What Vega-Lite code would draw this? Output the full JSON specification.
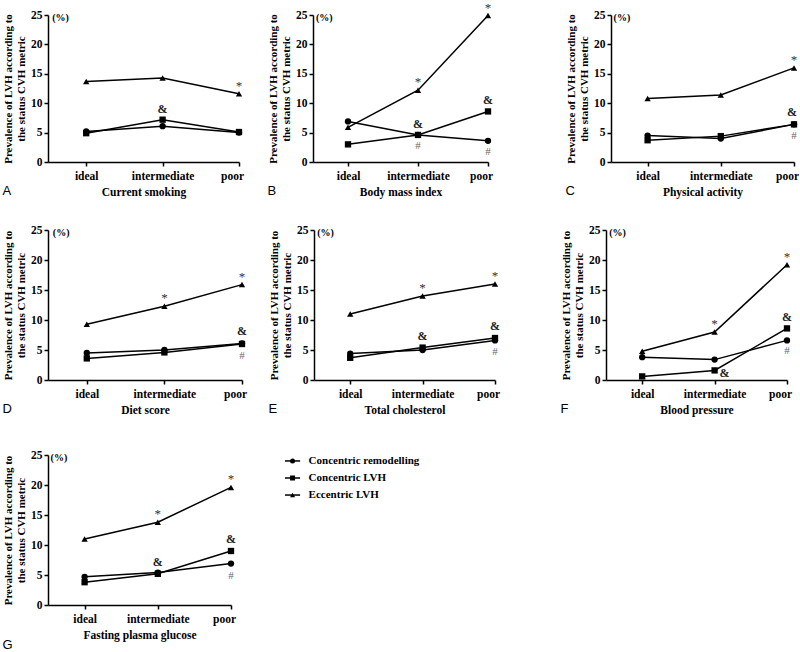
{
  "$schema": "https://vega.github.io/schema/vega-lite/v6.json",
  "padding": {"left": 2, "top": 1, "right": 0, "bottom": 0},
  "background": "white",
  "datasets": {
    "all": [
      {"panel":"A","level":"ideal","series":"Concentric remodelling","value":5.2},
      {"panel":"A","level":"intermediate","series":"Concentric remodelling","value":6.1},
      {"panel":"A","level":"poor","series":"Concentric remodelling","value":5.0},
      {"panel":"A","level":"ideal","series":"Concentric LVH","value":4.9},
      {"panel":"A","level":"intermediate","series":"Concentric LVH","value":7.2},
      {"panel":"A","level":"poor","series":"Concentric LVH","value":5.1},
      {"panel":"A","level":"ideal","series":"Eccentric LVH","value":13.7},
      {"panel":"A","level":"intermediate","series":"Eccentric LVH","value":14.3},
      {"panel":"A","level":"poor","series":"Eccentric LVH","value":11.6},
      {"panel":"B","level":"ideal","series":"Concentric remodelling","value":6.9},
      {"panel":"B","level":"intermediate","series":"Concentric remodelling","value":4.6},
      {"panel":"B","level":"poor","series":"Concentric remodelling","value":3.6},
      {"panel":"B","level":"ideal","series":"Concentric LVH","value":3.0},
      {"panel":"B","level":"intermediate","series":"Concentric LVH","value":4.6},
      {"panel":"B","level":"poor","series":"Concentric LVH","value":8.6},
      {"panel":"B","level":"ideal","series":"Eccentric LVH","value":5.9},
      {"panel":"B","level":"intermediate","series":"Eccentric LVH","value":12.2},
      {"panel":"B","level":"poor","series":"Eccentric LVH","value":24.9},
      {"panel":"C","level":"ideal","series":"Concentric remodelling","value":4.5},
      {"panel":"C","level":"intermediate","series":"Concentric remodelling","value":4.0},
      {"panel":"C","level":"poor","series":"Concentric remodelling","value":6.4},
      {"panel":"C","level":"ideal","series":"Concentric LVH","value":3.7},
      {"panel":"C","level":"intermediate","series":"Concentric LVH","value":4.4},
      {"panel":"C","level":"poor","series":"Concentric LVH","value":6.4},
      {"panel":"C","level":"ideal","series":"Eccentric LVH","value":10.8},
      {"panel":"C","level":"intermediate","series":"Eccentric LVH","value":11.4},
      {"panel":"C","level":"poor","series":"Eccentric LVH","value":16.0},
      {"panel":"D","level":"ideal","series":"Concentric remodelling","value":4.5},
      {"panel":"D","level":"intermediate","series":"Concentric remodelling","value":5.0},
      {"panel":"D","level":"poor","series":"Concentric remodelling","value":6.1},
      {"panel":"D","level":"ideal","series":"Concentric LVH","value":3.6},
      {"panel":"D","level":"intermediate","series":"Concentric LVH","value":4.6},
      {"panel":"D","level":"poor","series":"Concentric LVH","value":6.0},
      {"panel":"D","level":"ideal","series":"Eccentric LVH","value":9.3},
      {"panel":"D","level":"intermediate","series":"Eccentric LVH","value":12.3},
      {"panel":"D","level":"poor","series":"Eccentric LVH","value":15.9},
      {"panel":"E","level":"ideal","series":"Concentric remodelling","value":4.4},
      {"panel":"E","level":"intermediate","series":"Concentric remodelling","value":5.0},
      {"panel":"E","level":"poor","series":"Concentric remodelling","value":6.6},
      {"panel":"E","level":"ideal","series":"Concentric LVH","value":3.7},
      {"panel":"E","level":"intermediate","series":"Concentric LVH","value":5.4},
      {"panel":"E","level":"poor","series":"Concentric LVH","value":7.0},
      {"panel":"E","level":"ideal","series":"Eccentric LVH","value":11.0},
      {"panel":"E","level":"intermediate","series":"Eccentric LVH","value":14.0},
      {"panel":"E","level":"poor","series":"Eccentric LVH","value":16.0},
      {"panel":"F","level":"ideal","series":"Concentric remodelling","value":3.8},
      {"panel":"F","level":"intermediate","series":"Concentric remodelling","value":3.4},
      {"panel":"F","level":"poor","series":"Concentric remodelling","value":6.6},
      {"panel":"F","level":"ideal","series":"Concentric LVH","value":0.6},
      {"panel":"F","level":"intermediate","series":"Concentric LVH","value":1.6},
      {"panel":"F","level":"poor","series":"Concentric LVH","value":8.6},
      {"panel":"F","level":"ideal","series":"Eccentric LVH","value":4.8},
      {"panel":"F","level":"intermediate","series":"Eccentric LVH","value":8.0},
      {"panel":"F","level":"poor","series":"Eccentric LVH","value":19.2},
      {"panel":"G","level":"ideal","series":"Concentric remodelling","value":4.7},
      {"panel":"G","level":"intermediate","series":"Concentric remodelling","value":5.4},
      {"panel":"G","level":"poor","series":"Concentric remodelling","value":6.9},
      {"panel":"G","level":"ideal","series":"Concentric LVH","value":3.8},
      {"panel":"G","level":"intermediate","series":"Concentric LVH","value":5.2},
      {"panel":"G","level":"poor","series":"Concentric LVH","value":9.0},
      {"panel":"G","level":"ideal","series":"Eccentric LVH","value":11.0},
      {"panel":"G","level":"intermediate","series":"Eccentric LVH","value":13.8},
      {"panel":"G","level":"poor","series":"Eccentric LVH","value":19.6},

      {"panel":"A","level":"poor","series":"Eccentric LVH","value":11.6,"sym":"*"},
      {"panel":"A","level":"intermediate","series":"Concentric LVH","value":7.2,"sym":"&"},
      {"panel":"B","level":"intermediate","series":"Eccentric LVH","value":12.2,"sym":"*"},
      {"panel":"B","level":"poor","series":"Eccentric LVH","value":24.9,"sym":"*"},
      {"panel":"B","level":"intermediate","series":"Concentric LVH","value":4.6,"sym":"&"},
      {"panel":"B","level":"poor","series":"Concentric LVH","value":8.6,"sym":"&"},
      {"panel":"B","level":"intermediate","series":"Concentric remodelling","value":4.6,"sym":"#"},
      {"panel":"B","level":"poor","series":"Concentric remodelling","value":3.6,"sym":"#"},
      {"panel":"C","level":"poor","series":"Eccentric LVH","value":16.0,"sym":"*"},
      {"panel":"C","level":"poor","series":"Concentric LVH","value":6.4,"sym":"&"},
      {"panel":"C","level":"poor","series":"Concentric remodelling","value":6.4,"sym":"#"},
      {"panel":"D","level":"intermediate","series":"Eccentric LVH","value":12.3,"sym":"*"},
      {"panel":"D","level":"poor","series":"Eccentric LVH","value":15.9,"sym":"*"},
      {"panel":"D","level":"poor","series":"Concentric LVH","value":6.1,"sym":"&"},
      {"panel":"D","level":"poor","series":"Concentric remodelling","value":6.0,"sym":"#"},
      {"panel":"E","level":"intermediate","series":"Eccentric LVH","value":14.0,"sym":"*"},
      {"panel":"E","level":"poor","series":"Eccentric LVH","value":16.0,"sym":"*"},
      {"panel":"E","level":"intermediate","series":"Concentric LVH","value":5.4,"sym":"&"},
      {"panel":"E","level":"poor","series":"Concentric LVH","value":7.0,"sym":"&"},
      {"panel":"E","level":"poor","series":"Concentric remodelling","value":6.6,"sym":"#"},
      {"panel":"F","level":"intermediate","series":"Eccentric LVH","value":8.0,"sym":"*"},
      {"panel":"F","level":"poor","series":"Eccentric LVH","value":19.2,"sym":"*"},
      {"panel":"F","level":"poor","series":"Concentric LVH","value":8.6,"sym":"&"},
      {"panel":"F","level":"intermediate","series":"Concentric LVH","value":1.6,"sym":"&","pos":"right"},
      {"panel":"F","level":"poor","series":"Concentric remodelling","value":6.6,"sym":"#"},
      {"panel":"G","level":"intermediate","series":"Eccentric LVH","value":13.8,"sym":"*"},
      {"panel":"G","level":"poor","series":"Eccentric LVH","value":19.6,"sym":"*"},
      {"panel":"G","level":"intermediate","series":"Concentric LVH","value":5.2,"sym":"&"},
      {"panel":"G","level":"poor","series":"Concentric LVH","value":9.0,"sym":"&"},
      {"panel":"G","level":"poor","series":"Concentric remodelling","value":6.9,"sym":"#"},

      {"panel":"A","level":"ideal","sym":"(%)"},
      {"panel":"B","level":"ideal","sym":"(%)"},
      {"panel":"C","level":"ideal","sym":"(%)"},
      {"panel":"D","level":"ideal","sym":"(%)"},
      {"panel":"E","level":"ideal","sym":"(%)"},
      {"panel":"F","level":"ideal","sym":"(%)"},
      {"panel":"G","level":"ideal","sym":"(%)"}
    ]
  },
  "vconcat": [
    {
      "vconcat": [
        {
          "hconcat": [
            {
              "hconcat": [
                {
                  "width": 191, "height": 147,
                  "data": {"name": "all"},
                  "transform": [{"filter": "datum.panel == 'A'"}],
                  "title": {"text": "A"},
                  "resolve": {"scale": {"x": "independent", "y": "independent"}, "axis": {"x": "independent", "y": "independent"}},
                  "layer": [
                    {
                      "encoding": {
                        "x": {"field": "level", "type": "nominal", "scale": {"type": "point", "domain": ["ideal","intermediate","poor"], "padding": 0.25, "align": 1}, "axis": {"labelAngle": 0, "labelOffset": {"condition": {"test": "datum.value == 'poor'", "value": -7}, "value": 0}}, "title": "Current smoking"},
                        "y": {"field": "value", "type": "quantitative", "scale": {"domain": [0, 25]}, "axis": {"values": [0,5,10,15,20,25]}, "title": ["Prevalence of LVH according to", "the status CVH metric"]}
                      },
                      "layer": [
                        {"transform": [{"filter": "!isValid(datum.sym)"}], "mark": {"type": "line", "color": "black", "strokeWidth": 1.5}, "encoding": {"detail": {"field": "series"}}},
                        {"transform": [{"filter": "!isValid(datum.sym)"}], "mark": {"type": "point", "filled": true, "color": "black", "opacity": 1, "size": 40}, "encoding": {"shape": {"field": "series", "type": "nominal", "scale": {"domain": ["Concentric remodelling","Concentric LVH","Eccentric LVH"], "range": ["circle","square","triangle-up"]}, "legend": null}}},
                        {"transform": [{"filter": "datum.sym == '*'"}], "mark": {"type": "text", "dy": -8, "fontSize": 13, "color": "#333"}, "encoding": {"text": {"field": "sym"}}},
                        {"transform": [{"filter": "datum.sym == '&' && datum.pos != 'right'"}], "mark": {"type": "text", "dy": -11, "fontSize": 12, "fontWeight": "bold", "color": "#222"}, "encoding": {"text": {"field": "sym"}}},
                        {"transform": [{"filter": "datum.sym == '#'"}], "mark": {"type": "text", "dy": 11, "fontSize": 11, "color": "#666"}, "encoding": {"text": {"field": "sym"}}}
                      ]
                    },
                    {"transform": [{"filter": "datum.sym == '(%)'"}], "mark": {"type": "text", "align": "left", "dx": -34, "dy": 3, "fontSize": 10, "fontWeight": "bold", "color": "black"}, "encoding": {"x": {"field": "level", "type": "nominal", "scale": {"type": "point", "domain": ["ideal","intermediate","poor"], "padding": 0.25, "align": 1}, "axis": null}, "y": {"datum": 25, "type": "quantitative", "scale": {"domain": [0, 25]}, "axis": null}, "text": {"field": "sym"}}}
                  ]
                },
                {
                  "width": 175, "height": 147,
                  "data": {"name": "all"},
                  "transform": [{"filter": "datum.panel == 'B'"}],
                  "title": {"text": "B"},
                  "resolve": {"scale": {"x": "independent", "y": "independent"}, "axis": {"x": "independent", "y": "independent"}},
                  "layer": [
                    {
                      "encoding": {
                        "x": {"field": "level", "type": "nominal", "scale": {"type": "point", "domain": ["ideal","intermediate","poor"], "padding": 0.25, "align": 1}, "axis": {"labelAngle": 0, "labelOffset": {"condition": {"test": "datum.value == 'poor'", "value": -7}, "value": 0}}, "title": "Body mass index"},
                        "y": {"field": "value", "type": "quantitative", "scale": {"domain": [0, 25]}, "axis": {"values": [0,5,10,15,20,25]}, "title": ["Prevalence of LVH according to", "the status CVH metric"]}
                      },
                      "layer": [
                        {"transform": [{"filter": "!isValid(datum.sym)"}], "mark": {"type": "line", "color": "black", "strokeWidth": 1.5}, "encoding": {"detail": {"field": "series"}}},
                        {"transform": [{"filter": "!isValid(datum.sym)"}], "mark": {"type": "point", "filled": true, "color": "black", "opacity": 1, "size": 40}, "encoding": {"shape": {"field": "series", "type": "nominal", "scale": {"domain": ["Concentric remodelling","Concentric LVH","Eccentric LVH"], "range": ["circle","square","triangle-up"]}, "legend": null}}},
                        {"transform": [{"filter": "datum.sym == '*'"}], "mark": {"type": "text", "dy": -8, "fontSize": 13, "color": "#333"}, "encoding": {"text": {"field": "sym"}}},
                        {"transform": [{"filter": "datum.sym == '&' && datum.pos != 'right'"}], "mark": {"type": "text", "dy": -11, "fontSize": 12, "fontWeight": "bold", "color": "#222"}, "encoding": {"text": {"field": "sym"}}},
                        {"transform": [{"filter": "datum.sym == '#'"}], "mark": {"type": "text", "dy": 11, "fontSize": 11, "color": "#666"}, "encoding": {"text": {"field": "sym"}}}
                      ]
                    },
                    {"transform": [{"filter": "datum.sym == '(%)'"}], "mark": {"type": "text", "align": "left", "dx": -32, "dy": 3, "fontSize": 10, "fontWeight": "bold", "color": "black"}, "encoding": {"x": {"field": "level", "type": "nominal", "scale": {"type": "point", "domain": ["ideal","intermediate","poor"], "padding": 0.25, "align": 1}, "axis": null}, "y": {"datum": 25, "type": "quantitative", "scale": {"domain": [0, 25]}, "axis": null}, "text": {"field": "sym"}}}
                  ]
                }
              ],
              "spacing": 23
            },
            {
              "width": 183, "height": 147,
              "data": {"name": "all"},
              "transform": [{"filter": "datum.panel == 'C'"}],
              "title": {"text": "C"},
              "resolve": {"scale": {"x": "independent", "y": "independent"}, "axis": {"x": "independent", "y": "independent"}},
              "layer": [
                {
                  "encoding": {
                    "x": {"field": "level", "type": "nominal", "scale": {"type": "point", "domain": ["ideal","intermediate","poor"], "padding": 0.25, "align": 1}, "axis": {"labelAngle": 0, "labelOffset": {"condition": {"test": "datum.value == 'poor'", "value": -7}, "value": 0}}, "title": "Physical activity"},
                    "y": {"field": "value", "type": "quantitative", "scale": {"domain": [0, 25]}, "axis": {"values": [0,5,10,15,20,25]}, "title": ["Prevalence of LVH according to", "the status CVH metric"]}
                  },
                  "layer": [
                    {"transform": [{"filter": "!isValid(datum.sym)"}], "mark": {"type": "line", "color": "black", "strokeWidth": 1.5}, "encoding": {"detail": {"field": "series"}}},
                    {"transform": [{"filter": "!isValid(datum.sym)"}], "mark": {"type": "point", "filled": true, "color": "black", "opacity": 1, "size": 40}, "encoding": {"shape": {"field": "series", "type": "nominal", "scale": {"domain": ["Concentric remodelling","Concentric LVH","Eccentric LVH"], "range": ["circle","square","triangle-up"]}, "legend": null}}},
                    {"transform": [{"filter": "datum.sym == '*'"}], "mark": {"type": "text", "dy": -8, "fontSize": 13, "color": "#333"}, "encoding": {"text": {"field": "sym"}}},
                    {"transform": [{"filter": "datum.sym == '&' && datum.pos != 'right'"}], "mark": {"type": "text", "dy": -12, "dx": -2, "fontSize": 12, "fontWeight": "bold", "color": "#222"}, "encoding": {"text": {"field": "sym"}}},
                    {"transform": [{"filter": "datum.sym == '#'"}], "mark": {"type": "text", "dy": 12, "fontSize": 11, "color": "#666"}, "encoding": {"text": {"field": "sym"}}}
                  ]
                },
                {"transform": [{"filter": "datum.sym == '(%)'"}], "mark": {"type": "text", "align": "left", "dx": -34, "dy": 3, "fontSize": 10, "fontWeight": "bold", "color": "black"}, "encoding": {"x": {"field": "level", "type": "nominal", "scale": {"type": "point", "domain": ["ideal","intermediate","poor"], "padding": 0.25, "align": 1}, "axis": null}, "y": {"datum": 25, "type": "quantitative", "scale": {"domain": [0, 25]}, "axis": null}, "text": {"field": "sym"}}}
              ]
            }
          ],
          "spacing": 72
        },
        {
          "hconcat": [
            {
              "hconcat": [
                {
                  "width": 194, "height": 150,
                  "data": {"name": "all"},
                  "transform": [{"filter": "datum.panel == 'D'"}],
                  "title": {"text": "D"},
                  "resolve": {"scale": {"x": "independent", "y": "independent"}, "axis": {"x": "independent", "y": "independent"}},
                  "layer": [
                    {
                      "encoding": {
                        "x": {"field": "level", "type": "nominal", "scale": {"type": "point", "domain": ["ideal","intermediate","poor"], "padding": 0.25, "align": 1}, "axis": {"labelAngle": 0, "labelOffset": {"condition": {"test": "datum.value == 'poor'", "value": -7}, "value": 0}}, "title": "Diet score"},
                        "y": {"field": "value", "type": "quantitative", "scale": {"domain": [0, 25]}, "axis": {"values": [0,5,10,15,20,25]}, "title": ["Prevalence of LVH according to", "the status CVH metric"]}
                      },
                      "layer": [
                        {"transform": [{"filter": "!isValid(datum.sym)"}], "mark": {"type": "line", "color": "black", "strokeWidth": 1.5}, "encoding": {"detail": {"field": "series"}}},
                        {"transform": [{"filter": "!isValid(datum.sym)"}], "mark": {"type": "point", "filled": true, "color": "black", "opacity": 1, "size": 40}, "encoding": {"shape": {"field": "series", "type": "nominal", "scale": {"domain": ["Concentric remodelling","Concentric LVH","Eccentric LVH"], "range": ["circle","square","triangle-up"]}, "legend": null}}},
                        {"transform": [{"filter": "datum.sym == '*'"}], "mark": {"type": "text", "dy": -8, "fontSize": 13, "color": "#333"}, "encoding": {"text": {"field": "sym"}}},
                        {"transform": [{"filter": "datum.sym == '&' && datum.pos != 'right'"}], "mark": {"type": "text", "dy": -12, "fontSize": 12, "fontWeight": "bold", "color": "#222"}, "encoding": {"text": {"field": "sym"}}},
                        {"transform": [{"filter": "datum.sym == '#'"}], "mark": {"type": "text", "dy": 12, "fontSize": 11, "color": "#666"}, "encoding": {"text": {"field": "sym"}}}
                      ]
                    },
                    {"transform": [{"filter": "datum.sym == '(%)'"}], "mark": {"type": "text", "align": "left", "dx": -34, "dy": 3, "fontSize": 10, "fontWeight": "bold", "color": "black"}, "encoding": {"x": {"field": "level", "type": "nominal", "scale": {"type": "point", "domain": ["ideal","intermediate","poor"], "padding": 0.25, "align": 1}, "axis": null}, "y": {"datum": 25, "type": "quantitative", "scale": {"domain": [0, 25]}, "axis": null}, "text": {"field": "sym"}}}
                  ]
                },
                {
                  "width": 181, "height": 150,
                  "data": {"name": "all"},
                  "transform": [{"filter": "datum.panel == 'E'"}],
                  "title": {"text": "E"},
                  "resolve": {"scale": {"x": "independent", "y": "independent"}, "axis": {"x": "independent", "y": "independent"}},
                  "layer": [
                    {
                      "encoding": {
                        "x": {"field": "level", "type": "nominal", "scale": {"type": "point", "domain": ["ideal","intermediate","poor"], "padding": 0.25, "align": 1}, "axis": {"labelAngle": 0, "labelOffset": {"condition": {"test": "datum.value == 'poor'", "value": -7}, "value": 0}}, "title": "Total cholesterol"},
                        "y": {"field": "value", "type": "quantitative", "scale": {"domain": [0, 25]}, "axis": {"values": [0,5,10,15,20,25]}, "title": ["Prevalence of LVH according to", "the status CVH metric"]}
                      },
                      "layer": [
                        {"transform": [{"filter": "!isValid(datum.sym)"}], "mark": {"type": "line", "color": "black", "strokeWidth": 1.5}, "encoding": {"detail": {"field": "series"}}},
                        {"transform": [{"filter": "!isValid(datum.sym)"}], "mark": {"type": "point", "filled": true, "color": "black", "opacity": 1, "size": 40}, "encoding": {"shape": {"field": "series", "type": "nominal", "scale": {"domain": ["Concentric remodelling","Concentric LVH","Eccentric LVH"], "range": ["circle","square","triangle-up"]}, "legend": null}}},
                        {"transform": [{"filter": "datum.sym == '*'"}], "mark": {"type": "text", "dy": -8, "fontSize": 13, "color": "#333"}, "encoding": {"text": {"field": "sym"}}},
                        {"transform": [{"filter": "datum.sym == '&' && datum.pos != 'right'"}], "mark": {"type": "text", "dy": -12, "fontSize": 12, "fontWeight": "bold", "color": "#222"}, "encoding": {"text": {"field": "sym"}}},
                        {"transform": [{"filter": "datum.sym == '#'"}], "mark": {"type": "text", "dy": 12, "fontSize": 11, "color": "#666"}, "encoding": {"text": {"field": "sym"}}}
                      ]
                    },
                    {"transform": [{"filter": "datum.sym == '(%)'"}], "mark": {"type": "text", "align": "left", "dx": -33, "dy": 3, "fontSize": 10, "fontWeight": "bold", "color": "black"}, "encoding": {"x": {"field": "level", "type": "nominal", "scale": {"type": "point", "domain": ["ideal","intermediate","poor"], "padding": 0.25, "align": 1}, "axis": null}, "y": {"datum": 25, "type": "quantitative", "scale": {"domain": [0, 25]}, "axis": null}, "text": {"field": "sym"}}}
                  ]
                }
              ],
              "spacing": 21
            },
            {
              "width": 181, "height": 150,
              "data": {"name": "all"},
              "transform": [{"filter": "datum.panel == 'F'"}],
              "title": {"text": "F"},
              "resolve": {"scale": {"x": "independent", "y": "independent"}, "axis": {"x": "independent", "y": "independent"}},
              "layer": [
                {
                  "encoding": {
                    "x": {"field": "level", "type": "nominal", "scale": {"type": "point", "domain": ["ideal","intermediate","poor"], "padding": 0.25, "align": 1}, "axis": {"labelAngle": 0, "labelOffset": {"condition": {"test": "datum.value == 'poor'", "value": -7}, "value": 0}}, "title": "Blood pressure"},
                    "y": {"field": "value", "type": "quantitative", "scale": {"domain": [0, 25]}, "axis": {"values": [0,5,10,15,20,25]}, "title": ["Prevalence of LVH according to", "the status CVH metric"]}
                  },
                  "layer": [
                    {"transform": [{"filter": "!isValid(datum.sym)"}], "mark": {"type": "line", "color": "black", "strokeWidth": 1.5}, "encoding": {"detail": {"field": "series"}}},
                    {"transform": [{"filter": "!isValid(datum.sym)"}], "mark": {"type": "point", "filled": true, "color": "black", "opacity": 1, "size": 40}, "encoding": {"shape": {"field": "series", "type": "nominal", "scale": {"domain": ["Concentric remodelling","Concentric LVH","Eccentric LVH"], "range": ["circle","square","triangle-up"]}, "legend": null}}},
                    {"transform": [{"filter": "datum.sym == '*'"}], "mark": {"type": "text", "dy": -8, "fontSize": 13, "color": "#333"}, "encoding": {"text": {"field": "sym"}}},
                    {"transform": [{"filter": "datum.sym == '&' && datum.pos != 'right'"}], "mark": {"type": "text", "dy": -11, "fontSize": 12, "fontWeight": "bold", "color": "#222"}, "encoding": {"text": {"field": "sym"}}},
                    {"transform": [{"filter": "datum.pos == 'right'"}], "mark": {"type": "text", "dx": 10, "dy": 3, "fontSize": 12, "fontWeight": "bold", "color": "#222"}, "encoding": {"text": {"field": "sym"}}},
                    {"transform": [{"filter": "datum.sym == '#'"}], "mark": {"type": "text", "dy": 11, "fontSize": 11, "color": "#666"}, "encoding": {"text": {"field": "sym"}}}
                  ]
                },
                {"transform": [{"filter": "datum.sym == '(%)'"}], "mark": {"type": "text", "align": "left", "dx": -33, "dy": 3, "fontSize": 10, "fontWeight": "bold", "color": "black"}, "encoding": {"x": {"field": "level", "type": "nominal", "scale": {"type": "point", "domain": ["ideal","intermediate","poor"], "padding": 0.25, "align": 1}, "axis": null}, "y": {"datum": 25, "type": "quantitative", "scale": {"domain": [0, 25]}, "axis": null}, "text": {"field": "sym"}}}
              ]
            }
          ],
          "spacing": 60
        }
      ],
      "spacing": 26
    },
    {
      "hconcat": [
        {
          "width": 183, "height": 150,
          "data": {"name": "all"},
          "transform": [{"filter": "datum.panel == 'G'"}],
          "title": {"text": "G", "offset": -2},
          "resolve": {"scale": {"x": "independent", "y": "independent"}, "axis": {"x": "independent", "y": "independent"}},
          "layer": [
            {
              "encoding": {
                "x": {"field": "level", "type": "nominal", "scale": {"type": "point", "domain": ["ideal","intermediate","poor"], "padding": 0.25, "align": 1}, "axis": {"labelAngle": 0, "labelOffset": {"condition": {"test": "datum.value == 'poor'", "value": -7}, "value": 0}}, "title": "Fasting plasma glucose"},
                "y": {"field": "value", "type": "quantitative", "scale": {"domain": [0, 25]}, "axis": {"values": [0,5,10,15,20,25]}, "title": ["Prevalence of LVH according to", "the status CVH metric"]}
              },
              "layer": [
                {"transform": [{"filter": "!isValid(datum.sym)"}], "mark": {"type": "line", "color": "black", "strokeWidth": 1.5}, "encoding": {"detail": {"field": "series"}}},
                {"transform": [{"filter": "!isValid(datum.sym)"}], "mark": {"type": "point", "filled": true, "color": "black", "opacity": 1, "size": 40}, "encoding": {"shape": {"field": "series", "type": "nominal", "scale": {"domain": ["Concentric remodelling","Concentric LVH","Eccentric LVH"], "range": ["circle","square","triangle-up"]}, "legend": null}}},
                {"transform": [{"filter": "datum.sym == '*'"}], "mark": {"type": "text", "dy": -8, "fontSize": 13, "color": "#333"}, "encoding": {"text": {"field": "sym"}}},
                {"transform": [{"filter": "datum.sym == '&' && datum.pos != 'right'"}], "mark": {"type": "text", "dy": -12, "fontSize": 12, "fontWeight": "bold", "color": "#222"}, "encoding": {"text": {"field": "sym"}}},
                {"transform": [{"filter": "datum.sym == '#'"}], "mark": {"type": "text", "dy": 12, "fontSize": 11, "color": "#666"}, "encoding": {"text": {"field": "sym"}}}
              ]
            },
            {"transform": [{"filter": "datum.sym == '(%)'"}], "mark": {"type": "text", "align": "left", "dx": -34, "dy": 3, "fontSize": 10, "fontWeight": "bold", "color": "black"}, "encoding": {"x": {"field": "level", "type": "nominal", "scale": {"type": "point", "domain": ["ideal","intermediate","poor"], "padding": 0.25, "align": 1}, "axis": null}, "y": {"datum": 25, "type": "quantitative", "scale": {"domain": [0, 25]}, "axis": null}, "text": {"field": "sym"}}}
          ]
        },
        {
          "width": 170, "height": 46,
          "data": {"values": [{"label": "Concentric remodelling"}, {"label": "Concentric LVH"}, {"label": "Eccentric LVH"}]},
          "encoding": {
            "y": {"field": "label", "type": "nominal", "scale": {"type": "point", "padding": 0.35, "domain": ["Concentric remodelling","Concentric LVH","Eccentric LVH"]}, "axis": null}
          },
          "layer": [
            {"mark": {"type": "rule", "color": "black", "strokeWidth": 1.5}, "encoding": {"x": {"datum": 0, "type": "quantitative", "scale": {"domain": [0, 170]}, "axis": null}, "x2": {"datum": 16}}},
            {"mark": {"type": "point", "filled": true, "color": "black", "opacity": 1, "size": 25}, "encoding": {"x": {"datum": 8, "type": "quantitative"}, "shape": {"field": "label", "type": "nominal", "scale": {"domain": ["Concentric remodelling","Concentric LVH","Eccentric LVH"], "range": ["circle","square","triangle-up"]}, "legend": null}}},
            {"mark": {"type": "text", "align": "left", "baseline": "middle", "fontSize": 11, "fontWeight": "bold"}, "encoding": {"x": {"datum": 25, "type": "quantitative"}, "text": {"field": "label"}}}
          ]
        }
      ],
      "spacing": 48
    }
  ],
  "spacing": 33,
  "config": {
    "view": {"stroke": null},
    "font": "Liberation Serif",
    "text": {"font": "Liberation Serif", "color": "black"},
    "axis": {
      "grid": false,
      "domainColor": "black", "domainWidth": 1.5,
      "tickColor": "black", "tickWidth": 1.5, "tickSize": 4,
      "labelFont": "Liberation Serif", "labelFontWeight": "bold", "labelFontSize": 11.5, "labelColor": "black",
      "titleFont": "Liberation Serif", "titleFontWeight": "bold", "titleFontSize": 11.5, "titleColor": "black"
    },
    "axisY": {"titleLineHeight": 13, "titlePadding": 4, "labelPadding": 2, "titleFontSize": 11},
    "axisX": {"labelPadding": 4, "titlePadding": 5},
    "title": {"orient": "bottom", "anchor": "start", "frame": "bounds", "font": "Liberation Sans", "fontSize": 13, "fontWeight": "normal", "offset": -13, "color": "black"}
  }
}
